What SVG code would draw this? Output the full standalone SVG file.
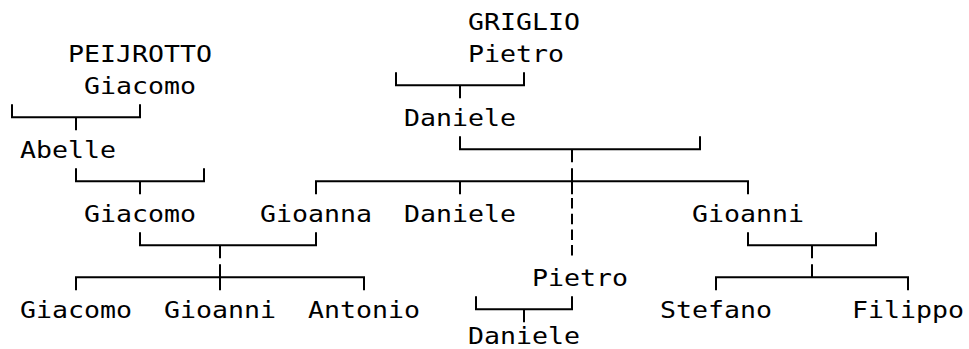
<svg xmlns="http://www.w3.org/2000/svg" width="969" height="349" viewBox="0 0 969 349">
<style>
text{font-family:"DejaVu Sans Mono","Liberation Mono",monospace;font-size:22.5px;fill:#000}
.c path{fill:none;stroke:#000;stroke-width:2;stroke-linecap:butt;stroke-linejoin:miter}
.c .d{stroke-dasharray:10.5 5.2}
</style>
<rect width="969" height="349" fill="#fff"/>
<g id="connectors" class="c">
<path d="M396 72.3V85.3H524V72.3M460 85.3V98.3"/>
<path d="M12 104.3V117.3H140V104.3M76 117.3V130.3"/>
<path d="M460 136.3V149.3H700V136.3M572 149.3V162.3"/>
<path d="M76 168.3V181.3H204V168.3M140 181.3V194.3"/>
<path d="M316 194.3V181.3H748V194.3M460 181.3V194.3M572 168.3V194.3"/>
<path class="d" d="M572 198V256"/>
<path d="M140 232.3V245.3H316V232.3M220 245.3V258.3"/>
<path d="M748 232.3V245.3H876V232.3M812 245.3V258.3"/>
<path d="M76 290.3V277.3H364V290.3M220 264.3V290.3"/>
<path d="M716 290.3V277.3H908V290.3M812 264.3V277.3"/>
<path d="M476 296.3V309.3H572V296.3M524 309.3V322.3"/>
</g>
<g id="griglio"><text x="468" y="29.5" textLength="112" lengthAdjust="spacingAndGlyphs">GRIGLIO</text></g>
<g id="peijrotto"><text x="68" y="61.5" textLength="144" lengthAdjust="spacingAndGlyphs">PEIJROTTO</text></g>
<g id="pietro1"><text x="468" y="61.5" textLength="96" lengthAdjust="spacingAndGlyphs">Pietro</text></g>
<g id="giacomo1"><text x="84" y="93.5" textLength="112" lengthAdjust="spacingAndGlyphs">Giacomo</text></g>
<g id="daniele1"><text x="404" y="125.5" textLength="112" lengthAdjust="spacingAndGlyphs">Daniele</text></g>
<g id="abelle"><text x="20" y="157.5" textLength="96" lengthAdjust="spacingAndGlyphs">Abelle</text></g>
<g id="giacomo2"><text x="84" y="221.5" textLength="112" lengthAdjust="spacingAndGlyphs">Giacomo</text></g>
<g id="gioanna"><text x="260" y="221.5" textLength="112" lengthAdjust="spacingAndGlyphs">Gioanna</text></g>
<g id="daniele2"><text x="404" y="221.5" textLength="112" lengthAdjust="spacingAndGlyphs">Daniele</text></g>
<g id="gioanni1"><text x="692" y="221.5" textLength="112" lengthAdjust="spacingAndGlyphs">Gioanni</text></g>
<g id="pietro2"><text x="532" y="285.5" textLength="96" lengthAdjust="spacingAndGlyphs">Pietro</text></g>
<g id="giacomo3"><text x="20" y="317.5" textLength="112" lengthAdjust="spacingAndGlyphs">Giacomo</text></g>
<g id="gioanni2"><text x="164" y="317.5" textLength="112" lengthAdjust="spacingAndGlyphs">Gioanni</text></g>
<g id="antonio"><text x="308" y="317.5" textLength="112" lengthAdjust="spacingAndGlyphs">Antonio</text></g>
<g id="stefano"><text x="660" y="317.5" textLength="112" lengthAdjust="spacingAndGlyphs">Stefano</text></g>
<g id="filippo"><text x="852" y="317.5" textLength="112" lengthAdjust="spacingAndGlyphs">Filippo</text></g>
<g id="daniele3"><text x="468" y="343.5" textLength="112" lengthAdjust="spacingAndGlyphs">Daniele</text></g>
</svg>
